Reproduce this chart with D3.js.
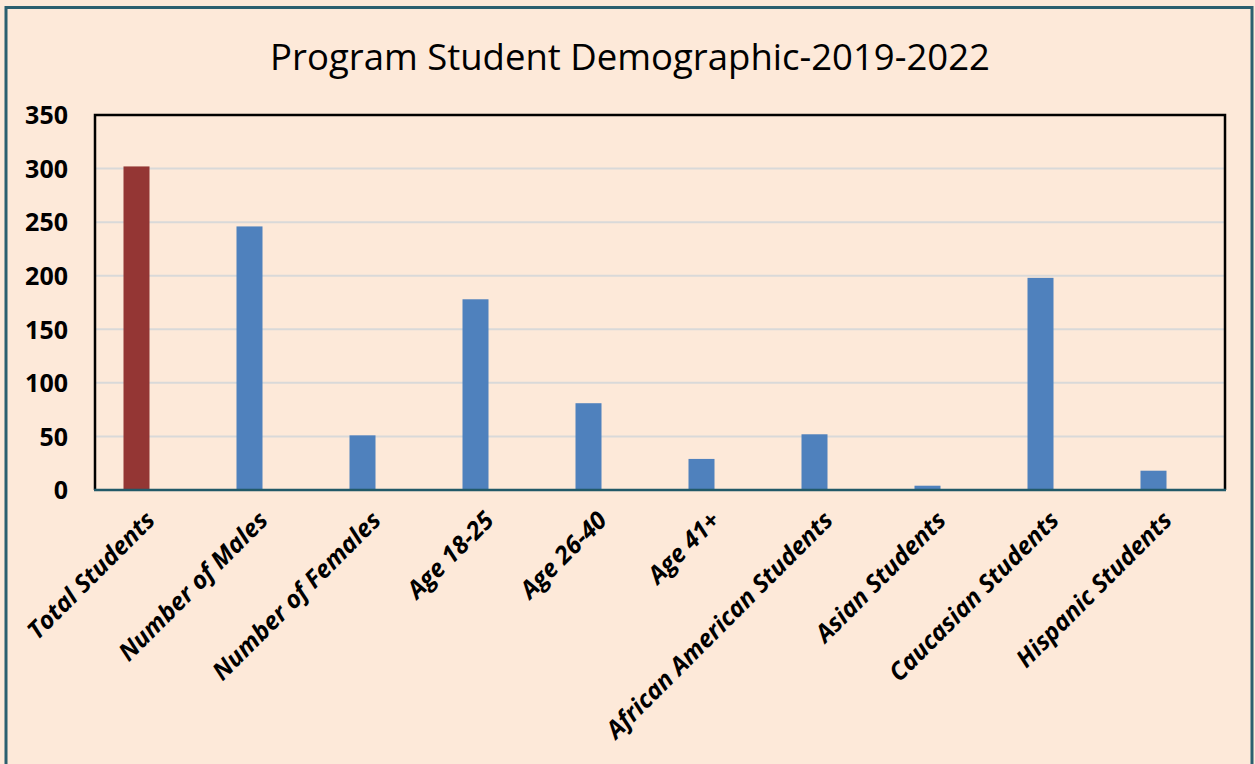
<!DOCTYPE html>
<html>
<head>
<meta charset="utf-8">
<script src="https://cdn.jsdelivr.net/npm/d3@7"></script>
<style>
  html, body { margin: 0; padding: 0; background: #fde9d9; }
  svg { display: block; }
</style>
</head>
<body>
<svg id="chart" width="1255" height="764"></svg>
<script>
const categories = ["Total Students", "Number of Males", "Number of Females", "Age 18-25", "Age 26-40", "Age 41+", "African American Students", "Asian Students", "Caucasian Students", "Hispanic Students"];
const values = [302, 246, 51, 178, 81, 29, 52, 4, 198, 18];
const highlight = ["Total Students"];
const yTicks = [0, 50, 100, 150, 200, 250, 300, 350];
const title = "Program Student Demographic-2019-2022";

const W = 1255, H = 764;
const plot = { left: 95, top: 115, right: 1225, bottom: 490 };
const svg = d3.select("#chart");
const FONT = "'Open Sans', Lato, sans-serif";

svg.append("rect").attr("x", 0).attr("y", 0).attr("width", W).attr("height", H).attr("fill", "#fde9d9");
svg.append("rect").attr("x", 6).attr("y", 7.5).attr("width", 1246).attr("height", 800)
  .attr("fill", "none").attr("stroke", "#2b5f6f").attr("stroke-width", 3);

svg.append("text").attr("x", 630).attr("y", 70).attr("text-anchor", "middle")
  .attr("font-family", FONT).attr("font-size", 36.5).attr("fill", "#000")
  .text(title);

const y = d3.scaleLinear().domain([0, 350]).range([plot.bottom, plot.top]);
const x = d3.scaleBand().domain(categories).range([plot.left - 15, plot.right - 15]).padding(0);
const barW = 26;

// gridlines
svg.append("g").selectAll("line").data(yTicks.filter(t => t > 0 && t < 350)).join("line")
  .attr("x1", plot.left).attr("x2", plot.right)
  .attr("y1", d => y(d)).attr("y2", d => y(d))
  .attr("stroke", "#d9d9d9").attr("stroke-width", 2);

// bars
svg.append("g").selectAll("rect").data(categories).join("rect")
  .attr("x", d => x(d) + x.bandwidth() / 2 - barW / 2)
  .attr("width", barW)
  .attr("y", (d, i) => y(values[i]))
  .attr("height", (d, i) => y(0) - y(values[i]))
  .attr("fill", d => highlight.includes(d) ? "#943634" : "#4f81bd");

// frame
svg.append("path")
  .attr("d", `M${plot.left},${plot.bottom} V${plot.top} H${plot.right} V${plot.bottom}`)
  .attr("fill", "none").attr("stroke", "#000").attr("stroke-width", 2.5);
svg.append("line").attr("x1", plot.left - 1).attr("x2", plot.right + 1)
  .attr("y1", plot.bottom).attr("y2", plot.bottom)
  .attr("stroke", "#215968").attr("stroke-width", 2.5);

// y axis labels
const yAxis = d3.axisLeft(y).tickValues(yTicks).tickSize(0).tickPadding(0);
const gy = svg.append("g").attr("transform", `translate(68,0)`).call(yAxis);
gy.select(".domain").remove();
gy.selectAll("text").attr("font-family", FONT)
  .attr("font-size", 25).attr("font-weight", "bold").attr("fill", "#000").attr("dy", "0.35em");

// x axis labels
const xAxis = d3.axisBottom(x).tickSize(0).tickPadding(0);
const gx = svg.append("g").attr("transform", `translate(0,${plot.bottom})`).call(xAxis);
gx.select(".domain").remove();
gx.selectAll("text")
  .attr("font-family", FONT)
  .attr("font-size", 24.5).attr("font-weight", "bold").attr("font-style", "italic").attr("fill", "#000")
  .attr("text-anchor", "end")
  .attr("dy", "0.8em")
  .attr("transform", "translate(6,18) rotate(-45)");
</script>
</body>
</html>
